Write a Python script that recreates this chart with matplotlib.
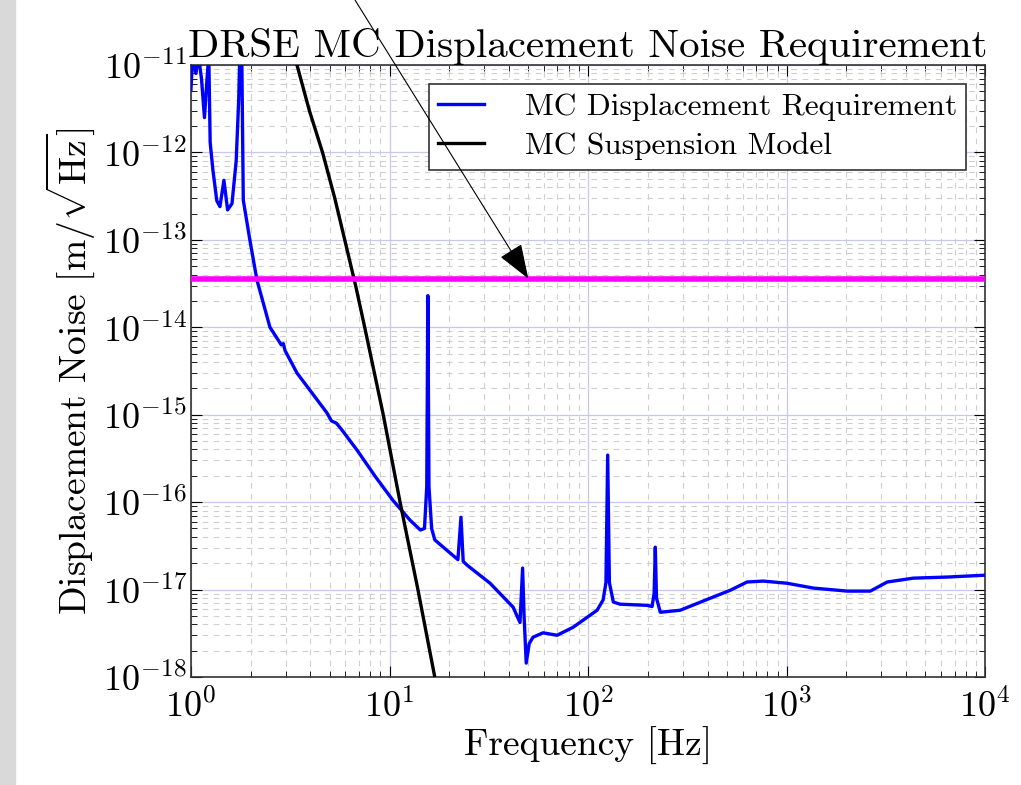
import matplotlib
matplotlib.use('Agg')
import matplotlib.pyplot as plt
from matplotlib.patches import Rectangle, ConnectionPatch
from matplotlib.ticker import LogLocator, NullFormatter

##### data #####
# MC displacement requirement (blue)
req_freq = [1.00, 1.02, 1.06, 1.09, 1.13, 1.17, 1.20, 1.23, 1.25, 1.29, 1.35,
            1.40, 1.466, 1.53, 1.61, 1.69, 1.74, 1.77, 1.80, 1.835, 1.98, 2.15,
            2.50, 2.85, 2.92, 2.98, 3.42, 4.05, 4.84, 5.1, 5.4, 5.7, 6.86,
            8.5, 10.4, 12.7, 14.3, 15.0, 15.4, 15.6, 15.8, 16.3, 16.9, 19.5,
            22.1, 22.9, 23.5, 24.6, 32.1, 41.9, 45.4, 46.8, 47.6, 48.8, 50.5,
            52.8, 59.3, 69.8, 84.0, 111, 119, 123, 125.5, 128, 134, 145, 198,
            210, 215, 218, 221, 231, 291, 426, 519, 632, 762, 1006, 1361, 2018,
            2636, 3209, 4335, 6438, 10000]
req_asd = [5.2e-12, 1.2e-11, 8e-12, 1.3e-11, 7e-12, 2.5e-12, 6e-12, 1.3e-11,
           1.3e-12, 6.3e-13, 2.8e-13, 2.4e-13, 4.8e-13, 2.2e-13, 2.6e-13,
           8e-13, 4e-12, 2e-11, 2e-11, 2.85e-13, 1e-13, 3.47e-14, 1.0e-14,
           6.3e-15, 6.5e-15, 5.4e-15, 3.0e-15, 1.8e-15, 1.05e-15, 8.5e-16,
           8.0e-16, 6.9e-16, 3.94e-16, 1.95e-16, 1.05e-16, 6.2e-17, 4.8e-17,
           5.0e-17, 1.5e-16, 2.3e-14, 1.5e-16, 5e-17, 3.7e-17, 2.8e-17,
           2.2e-17, 6.7e-17, 2.1e-17, 1.9e-17, 1.18e-17, 6.3e-18, 4.2e-18,
           1.76e-17, 5e-18, 1.44e-18, 2.4e-18, 2.85e-18, 3.2e-18, 3.0e-18,
           3.7e-18, 5.8e-18, 7.6e-18, 1.2e-17, 3.45e-16, 1.2e-17, 7.2e-18,
           6.8e-18, 6.6e-18, 6.4e-18, 9e-18, 3.05e-17, 8e-18, 5.5e-18,
           5.8e-18, 8.2e-18, 9.8e-18, 1.22e-17, 1.25e-17, 1.18e-17, 1.04e-17,
           9.6e-18, 9.6e-18, 1.22e-17, 1.35e-17, 1.39e-17, 1.46e-17]

# MC suspension model (black)
susp_freq = [3.42, 3.95, 4.6, 5.3, 5.95, 6.75, 7.5, 9.3, 11.3, 13.9, 16.9]
susp_asd = [1e-11, 3e-12, 1e-12, 3e-13, 1e-13, 3e-14, 1e-14, 1e-15, 1e-16,
            1e-17, 1e-18]

# flat requirement level (magenta) and arrow target
req_level = 3.6e-14
arrow_freq = 50

##### style #####
plt.rcParams['font.family'] = 'cmr10'
plt.rcParams['mathtext.fontset'] = 'cm'
plt.rcParams['axes.formatter.use_mathtext'] = True
plt.rcParams['axes.unicode_minus'] = False

fig = plt.figure(figsize=(10.21, 7.85), dpi=100)
ax = fig.add_axes([0.187, 0.1376, 0.778, 0.7796])

# grey strip on the left edge of the screenshot
fig.patches.append(Rectangle((0, 0), 0.015, 1, transform=fig.transFigure,
                             color='#d9d9d9', zorder=0))

##### plot #####
ax.loglog(req_freq, req_asd, color='#0000ff', lw=2.4,
          label='MC Displacement Requirement', zorder=3)
ax.loglog(susp_freq, susp_asd, color='black', lw=2.4,
          label='MC Suspension Model', zorder=3)
ax.axhline(req_level, color='#ff00ff', lw=4, zorder=4)

ax.set_xlim(1, 1e4)
ax.set_ylim(1e-18, 1e-11)

ax.xaxis.set_major_locator(LogLocator(base=10, numticks=10))
ax.yaxis.set_major_locator(LogLocator(base=10, numticks=10))
ax.xaxis.set_minor_locator(LogLocator(base=10, subs=range(2, 10), numticks=20))
ax.yaxis.set_minor_locator(LogLocator(base=10, subs=range(2, 10), numticks=20))
ax.xaxis.set_minor_formatter(NullFormatter())
ax.yaxis.set_minor_formatter(NullFormatter())

ax.grid(True, which='major', color='#c8c8ee', lw=0.9, ls='-')
ax.grid(True, which='minor', color='#cfcfcf', lw=0.8, ls=(0, (5, 5)))
ax.set_axisbelow(True)

ax.tick_params(which='both', direction='in', top=True, right=True,
               labelsize=26)
ax.tick_params(axis='x', pad=8)
ax.tick_params(axis='y', pad=3)
ax.tick_params(which='major', length=8)
ax.tick_params(which='minor', length=4)
for s in ax.spines.values():
    s.set_color('#333333')
    s.set_linewidth(1.2)

ax.set_title('DRSE MC Displacement Noise Requirement', fontsize=29.5, pad=4)
ax.set_xlabel('Frequency [Hz]', fontsize=27, labelpad=2)
ax.set_ylabel(r'Displacement Noise [m/$\sqrt{\mathrm{Hz}}$]', fontsize=27,
              labelpad=4)

leg = ax.legend(loc='upper right', fontsize=22.6, frameon=True, fancybox=False,
                edgecolor='#333333', framealpha=1, handlelength=1.45,
                handletextpad=1.3, borderaxespad=0.6, borderpad=0.3,
                labelspacing=0.35)
leg.get_frame().set_linewidth(1.2)

arrow = ConnectionPatch(xyA=(355 / 1021, 1.0), coordsA='figure fraction',
                        xyB=(arrow_freq, req_level), coordsB='data', axesB=ax,
                        arrowstyle='-|>,head_length=1.1,head_width=0.4',
                        mutation_scale=20, color='black', lw=0.8,
                        shrinkA=0, shrinkB=0, zorder=6)
fig.add_artist(arrow)

fig.savefig('out.png', dpi=100)
